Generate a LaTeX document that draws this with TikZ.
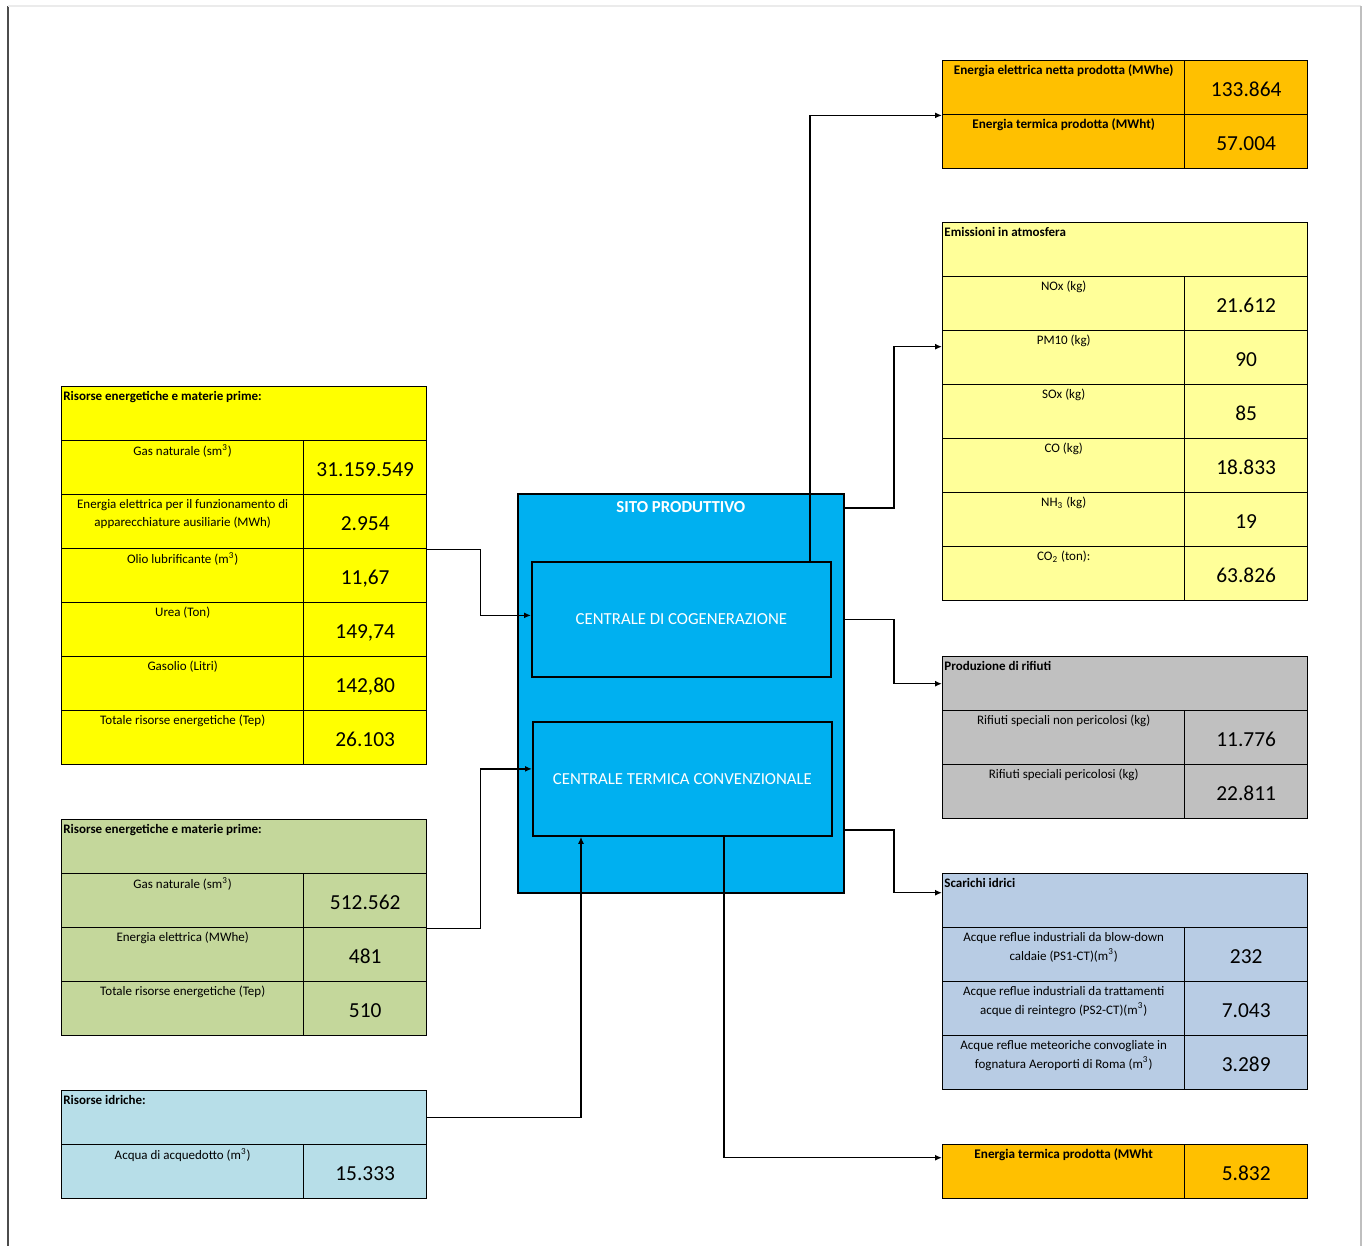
\documentclass[tikz,border=0pt]{standalone}
\usepackage{fontspec}
\setmainfont{Carlito}
\usetikzlibrary{arrows.meta,calc,positioning}
\definecolor{resyellow}{RGB}{255,255,0}
\definecolor{resgreen}{RGB}{196,215,155}
\definecolor{reswater}{RGB}{183,222,232}
\definecolor{outorange}{RGB}{255,192,0}
\definecolor{emipale}{RGB}{255,255,153}
\definecolor{wastegray}{RGB}{192,192,192}
\definecolor{drainblue}{RGB}{184,204,228}
\definecolor{sitecyan}{RGB}{0,176,240}
\tikzset{
  cellbox/.style={draw=black, line width=0.7pt, inner sep=0pt,
                  anchor=north west, minimum height=27pt},
  namecell/.style={cellbox, minimum width=121pt},
  valcell/.style={cellbox, minimum width=61.5pt, text height=8.6pt, text depth=0pt,
                  font=\fontsize{10.7}{12}\selectfont},
  titlecell/.style={cellbox, minimum width=182.5pt},
  itemlab/.style={anchor=north, inner sep=1pt, yshift=-1.3pt, align=center,
                  font=\fontsize{6.5}{9}\selectfont},
  headlab/.style={itemlab, font=\fontsize{6.6}{9}\selectfont\bfseries},
  titlelab/.style={anchor=north west, inner sep=1pt, yshift=-1.5pt,
                   font=\fontsize{6.5}{9}\selectfont\bfseries},
  plant/.style={draw=black, line width=0.9pt, fill=sitecyan, inner sep=0pt,
                anchor=north west, text=white,
                font=\fontsize{8.4}{10}\selectfont},
  sitelab/.style={anchor=north, inner sep=1pt, yshift=-3pt, text=white,
                  font=\fontsize{8.4}{10}\selectfont\bfseries},
  flow/.style={-{Latex[length=3.5pt,width=3pt]}, line width=0.75pt},
}

\begin{document}
\begin{tikzpicture}[x=0.5pt,y=-0.5pt]
  \useasboundingbox (0,0) rectangle (1366,1246);

  % page edges
  \draw[black!70, line width=1pt] (7.5,1246) -- (7.5,6.5);
  \draw[black!8, line width=1pt] (7.5,6.5) -- (1361,6.5);
  \draw[black!25, line width=1pt] (1361,6.5) -- (1361,1246);

  % inputs: cogeneration
  \node[titlecell, fill=resyellow,
        label={[titlelab]north west:{Risorse energetiche e materie prime:}}] (ry0) at (61,386) {};
  \foreach \lab/\val [count=\i] in {
      {Gas naturale (sm\textsuperscript{3})}/{31.159.549},
      {Energia elettrica per il funzionamento di\\apparecchiature ausiliarie (MWh)}/{2.954},
      {Olio lubrificante (m\textsuperscript{3})}/{11,67},
      {Urea (Ton)}/{149,74},
      {Gasolio (Litri)}/{142,80},
      {Totale risorse energetiche (Tep)}/{26.103}}
    {\node[namecell, fill=resyellow, label={[itemlab]north:\lab}] (ry\i) at (61,386+54*\i) {};
     \node[valcell, fill=resyellow] (ryv\i) at (303,386+54*\i) {\val};}

  % inputs: conventional plant
  \node[titlecell, fill=resgreen,
        label={[titlelab]north west:{Risorse energetiche e materie prime:}}] (gr0) at (61,819) {};
  \foreach \lab/\val [count=\i] in {
      {Gas naturale (sm\textsuperscript{3})}/{512.562},
      {Energia elettrica (MWhe)}/{481},
      {Totale risorse energetiche (Tep)}/{510}}
    {\node[namecell, fill=resgreen, label={[itemlab]north:\lab}] (gr\i) at (61,819+54*\i) {};
     \node[valcell, fill=resgreen] (grv\i) at (303,819+54*\i) {\val};}

  % inputs: water
  \node[titlecell, fill=reswater,
        label={[titlelab]north west:{Risorse idriche:}}] (rw0) at (61,1090) {};
  \node[namecell, fill=reswater,
        label={[itemlab]north:{Acqua di acquedotto (m\textsuperscript{3})}}] (rw1) at (61,1144) {};
  \node[valcell, fill=reswater] (rwv1) at (303,1144) {15.333};

  % site
  \node[plant, minimum width=163pt, minimum height=199.5pt,
        label={[sitelab]north:SITO PRODUTTIVO}] (sito) at (517,493) {};
  \node[plant, minimum width=149.5pt, minimum height=57.5pt] (cogen) at (531,561)
    {CENTRALE DI COGENERAZIONE};
  \node[plant, minimum width=149.5pt, minimum height=57pt] (termica) at (532,721)
    {CENTRALE TERMICA CONVENZIONALE};

  % outputs: energy
  \foreach \lab/\val [count=\i] in {
      {Energia elettrica netta prodotta (MWhe)}/{133.864},
      {Energia termica prodotta (MWht)}/{57.004}}
    {\node[namecell, fill=outorange, label={[headlab]north:\lab}] (eo\i) at (942,6+54*\i) {};
     \node[valcell, fill=outorange] (eov\i) at (1184,6+54*\i) {\val};}

  % outputs: emissions
  \node[titlecell, fill=emipale,
        label={[titlelab]north west:{Emissioni in atmosfera}}] (em0) at (942,222) {};
  \foreach \lab/\val [count=\i] in {
      {NOx (kg)}/{21.612},
      {PM10 (kg)}/{90},
      {SOx (kg)}/{85},
      {CO (kg)}/{18.833},
      {NH\textsubscript{3} (kg)}/{19},
      {CO\textsubscript{2} (ton):}/{63.826}}
    {\node[namecell, fill=emipale, label={[itemlab]north:{\lab}}] (em\i) at (942,222+54*\i) {};
     \node[valcell, fill=emipale] (emv\i) at (1184,222+54*\i) {\val};}

  % outputs: waste
  \node[titlecell, fill=wastegray,
        label={[titlelab]north west:{Produzione di rifiuti}}] (rf0) at (942,656) {};
  \foreach \lab/\val [count=\i] in {
      {Rifiuti speciali non pericolosi (kg)}/{11.776},
      {Rifiuti speciali pericolosi (kg)}/{22.811}}
    {\node[namecell, fill=wastegray, label={[itemlab]north:\lab}] (rf\i) at (942,656+54*\i) {};
     \node[valcell, fill=wastegray] (rfv\i) at (1184,656+54*\i) {\val};}

  % outputs: drains
  \node[titlecell, fill=drainblue,
        label={[titlelab]north west:{Scarichi idrici}}] (sc0) at (942,873) {};
  \foreach \lab/\val [count=\i] in {
      {Acque reflue industriali da blow-down\\caldaie (PS1-CT)(m\textsuperscript{3})}/{232},
      {Acque reflue industriali da trattamenti\\acque di reintegro (PS2-CT)(m\textsuperscript{3})}/{7.043},
      {Acque reflue meteoriche convogliate in\\fognatura Aeroporti di Roma (m\textsuperscript{3})}/{3.289}}
    {\node[namecell, fill=drainblue, label={[itemlab, font=\fontsize{6.5}{9.5}\selectfont]north:\lab}] (sc\i) at (942,873+54*\i) {};
     \node[valcell, fill=drainblue] (scv\i) at (1184,873+54*\i) {\val};}

  % outputs: heat from conventional plant
  \node[namecell, fill=outorange,
        label={[headlab]north:{Energia termica prodotta (MWht}}] (eb1) at (942,1144) {};
  \node[valcell, fill=outorange] (ebv1) at (1184,1144) {5.832};

  % connectors
  \draw[flow] (ryv2.south east) -- ++(53,0) |- ([yshift=2pt]cogen.west);
  \draw[flow] (grv1.south east) -- ++(53,0) |- ([yshift=5pt]termica.west);
  \draw[flow] (rw0.east) -| ([xshift=24.5pt]termica.south west);
  \draw[flow] ([xshift=-11pt]cogen.north east) |- (eo1.south west);
  \draw[flow] ([yshift=-7.5pt]sito.north east) -- ++(49,0) |- ([yshift=5.5pt]em2.west);
  \draw[flow] (cogen.east -| sito.east) -- ++(49,0) |- (rf0.west);
  \draw[flow] ($(termica.south -| sito.east)+(0,-7)$) -- ++(49,0) |- ([yshift=4pt]sc0.west);
  \draw[flow] ([xshift=20.75pt]termica.south) |- ([yshift=7pt]eb1.west);
\end{tikzpicture}
\end{document}
